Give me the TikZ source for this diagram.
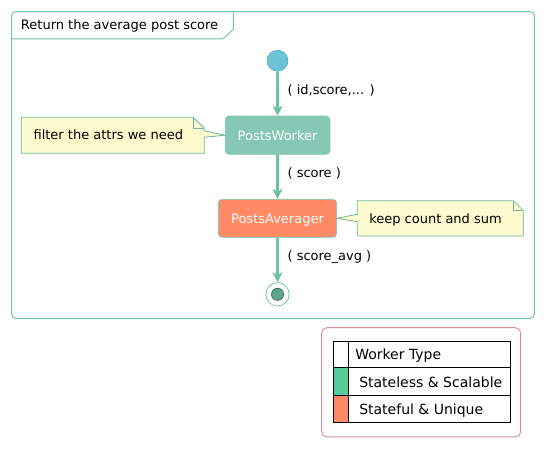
\documentclass[tikz,border=0pt]{standalone}
\usepackage{fontspec}
\setmainfont{DejaVu Sans}
\usetikzlibrary{arrows.meta}
\definecolor{framec}{HTML}{74C4A8}
\definecolor{arrowc}{HTML}{6EC1A5}
\definecolor{workerc}{HTML}{86C8B4}
\definecolor{boxb}{HTML}{7CC8B0}
\definecolor{averc}{HTML}{FF8A65}
\definecolor{startc}{HTML}{6BC4D6}
\definecolor{startb}{HTML}{5AB3C6}
\definecolor{notef}{HTML}{FEFBCE}
\definecolor{noteb}{HTML}{6DB59D}
\definecolor{endin}{HTML}{5FA68F}
\definecolor{endb}{HTML}{3D6E5E}
\definecolor{legb}{HTML}{D9909A}
\definecolor{leggreen}{HTML}{55CC99}
\tikzset{
  txt/.style={inner sep=0pt, anchor=base west, font=\fontsize{9.75pt}{11pt}\selectfont},
  legtxt/.style={inner sep=0pt, anchor=base west, font=\fontsize{10.5pt}{12pt}\selectfont},
  workerbox/.style={rectangle, rounded corners=3pt, draw=boxb, fill=#1, line width=0.6pt,
     text=white, inner sep=0pt, text height=7.5pt, text depth=0pt,
     font=\fontsize{9.75pt}{11pt}\selectfont},
  flow/.style={draw=arrowc, line width=2.2pt, -{Stealth[length=7.5pt,width=7.5pt,inset=2.2pt]}},
  notepath/.style={draw=noteb, fill=notef, line width=0.6pt, line join=miter},
}
\begin{document}
\begin{tikzpicture}[x=0.75pt,y=-0.75pt]
\useasboundingbox (0,0) rectangle (544,460);
% frame
\draw[framec, line width=0.75pt, rounded corners=3pt] (11.7,11.7) rectangle (534.3,318.3);
\draw[framec, line width=0.75pt] (11.7,39) -- (222.7,39) -- (233.3,29.3) -- (233.3,11.7);
\node[txt] (title) at (20.7,29.3) {Return the average post score};
% flow nodes
\node[circle, fill=startc, draw=startb, line width=0.5pt, minimum size=15.75pt, inner sep=0pt] (start) at (277.5,60.7) {};
\node[workerbox=workerc, minimum width=78.5pt, minimum height=28.7pt] (pw) at (277.6,135.2) {PostsWorker};
\node[workerbox=averc, minimum width=88.8pt, minimum height=28.5pt] (pa) at (277.5,218.3) {PostsAverager};
\node[circle, fill=white, draw=framec, line width=0.6pt, minimum size=17.5pt, inner sep=0pt] (end) at (277.5,294.3) {};
\node[circle, fill=endin, draw=endb, line width=0.6pt, minimum size=9pt, inner sep=0pt] (endin) at (end.center) {};
% connectors
\draw[flow] (start.south) -- (pw.north);
\draw[flow] (pw.south) -- (pa.north);
\draw[flow] (pa.south) -- (end.north);
\node[txt] (l1) at (287.3,95) {( id,score,... )};
\node[txt] (l2) at (287.3,177.6) {( score )};
\node[txt] (l3) at (287.3,261) {( score\_avg )};
% note 1
\draw[notepath] (21.3,117.3) -- (193.3,117.3) -- (204.3,128.3) -- (204.3,130.7) -- (pw.west) -- (204.3,137.3) -- (204.3,153.3) -- (21.3,153.3) -- cycle;
\draw[noteb, line width=0.6pt] (193.3,117.3) -- (193.3,128.3) -- (204.3,128.3);
\node[txt] (n1) at (33.3,139.5) {filter the attrs we need};
% note 2
\draw[notepath] (357.3,200.7) -- (513.3,200.7) -- (523.3,210.7) -- (523.3,236) -- (357.3,236) -- (357.3,221.7) -- (pa.east) -- (357.3,214.3) -- cycle;
\draw[noteb, line width=0.6pt] (513.3,200.7) -- (513.3,210.7) -- (523.3,210.7);
\node[txt] (n2) at (369,223.3) {keep count and sum};
% legend
\draw[legb, line width=0.75pt, rounded corners=4pt] (321.7,327.7) rectangle (520.7,437);
\fill[leggreen] (333,368) rectangle (348,396);
\fill[averc] (333,396) rectangle (348,423);
\draw[black, line width=0.75pt] (333,342) rectangle (510,423);
\draw[black, line width=0.75pt] (348,342) -- (348,423);
\draw[black, line width=0.75pt] (333,368) -- (510,368);
\draw[black, line width=0.75pt] (333,396) -- (510,396);
\node[legtxt] (lg0) at (355,359.3) {Worker Type};
\node[legtxt] (lg1) at (359,387.3) {Stateless \& Scalable};
\node[legtxt] (lg2) at (359,415) {Stateful \& Unique};
\end{tikzpicture}
\end{document}
